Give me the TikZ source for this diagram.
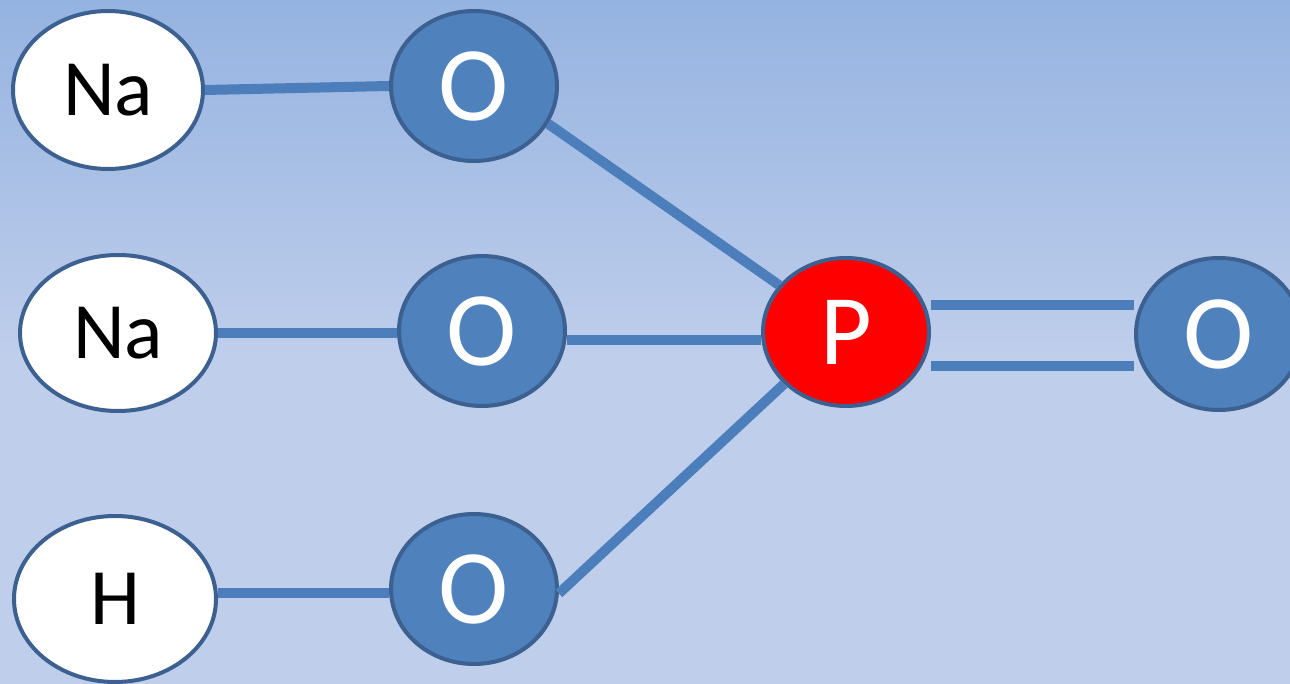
\documentclass[tikz,border=0pt]{standalone}
\usepackage{fontspec}
\setmainfont{Carlito}
\usetikzlibrary{shapes.geometric}
\definecolor{bgtop}{HTML}{95B3E1}
\definecolor{bgmid}{HTML}{BFCEEB}
\definecolor{edgeblue}{HTML}{3C6090}
\definecolor{ofill}{HTML}{4F81BD}
\definecolor{bondblue}{HTML}{4C7EBC}
\newcommand{\lowtext}[1]{\raisebox{-5pt}{#1}}
\tikzset{
  atom/.style={ellipse, draw=edgeblue, line width=4pt, inner sep=0pt},
  metal/.style={atom, fill=white, minimum width=190pt, minimum height=158pt, font=\fontsize{80}{80}\selectfont},
  oxy/.style={atom, fill=ofill, text=white, minimum width=166pt, minimum height=150pt, font=\fontsize{106}{106}\selectfont},
  phos/.style={atom, fill=red, text=white, minimum width=166pt, minimum height=148pt, font=\fontsize{100}{100}\selectfont},
  bond/.style={draw=bondblue, line width=10pt}
}
\begin{document}
\begin{tikzpicture}[x=1pt,y=-1pt]
\useasboundingbox (0,0) rectangle (1290,684);
\clip (0,0) rectangle (1290,684);
\shade[top color=bgtop, bottom color=bgmid] (0,0) rectangle (1290,360);
\fill[bgmid] (0,359) rectangle (1290,684);
\node[metal] (na1) at (108,90) {\lowtext{Na}};
\node[metal, minimum width=196pt, minimum height=156pt] (na2) at (118,333) {\lowtext{Na}};
\node[metal, minimum width=202pt, minimum height=166pt] (h) at (115,599) {\lowtext{H}};
\node[oxy] (o1) at (474,86) {O};
\node[oxy] (o2) at (482,331) {O};
\node[oxy] (o3) at (474,589) {O};
\node[phos] (p) at (846,332) {P};
\node[oxy, minimum height=152pt] (o4) at (1219,334) {O};
\draw[bond] (na1.east) -- (o1.west);
\draw[bond] (na2.east |- 0,333) -- (o2.west |- 0,333);
\draw[bond] (h.east |- 0,593) -- (o3.west |- 0,593);
\draw[bond] (o1.-27) -- (p.145);
\draw[bond] (o2.east |- 0,340) -- (p.west |- 0,340);
\draw[bond] (o3.-3) -- (p.-140);
\draw[bond] (p.east |- 0,305) -- (o4.west |- 0,305);
\draw[bond] (p.east |- 0,366) -- (o4.west |- 0,366);
\end{tikzpicture}
\end{document}
